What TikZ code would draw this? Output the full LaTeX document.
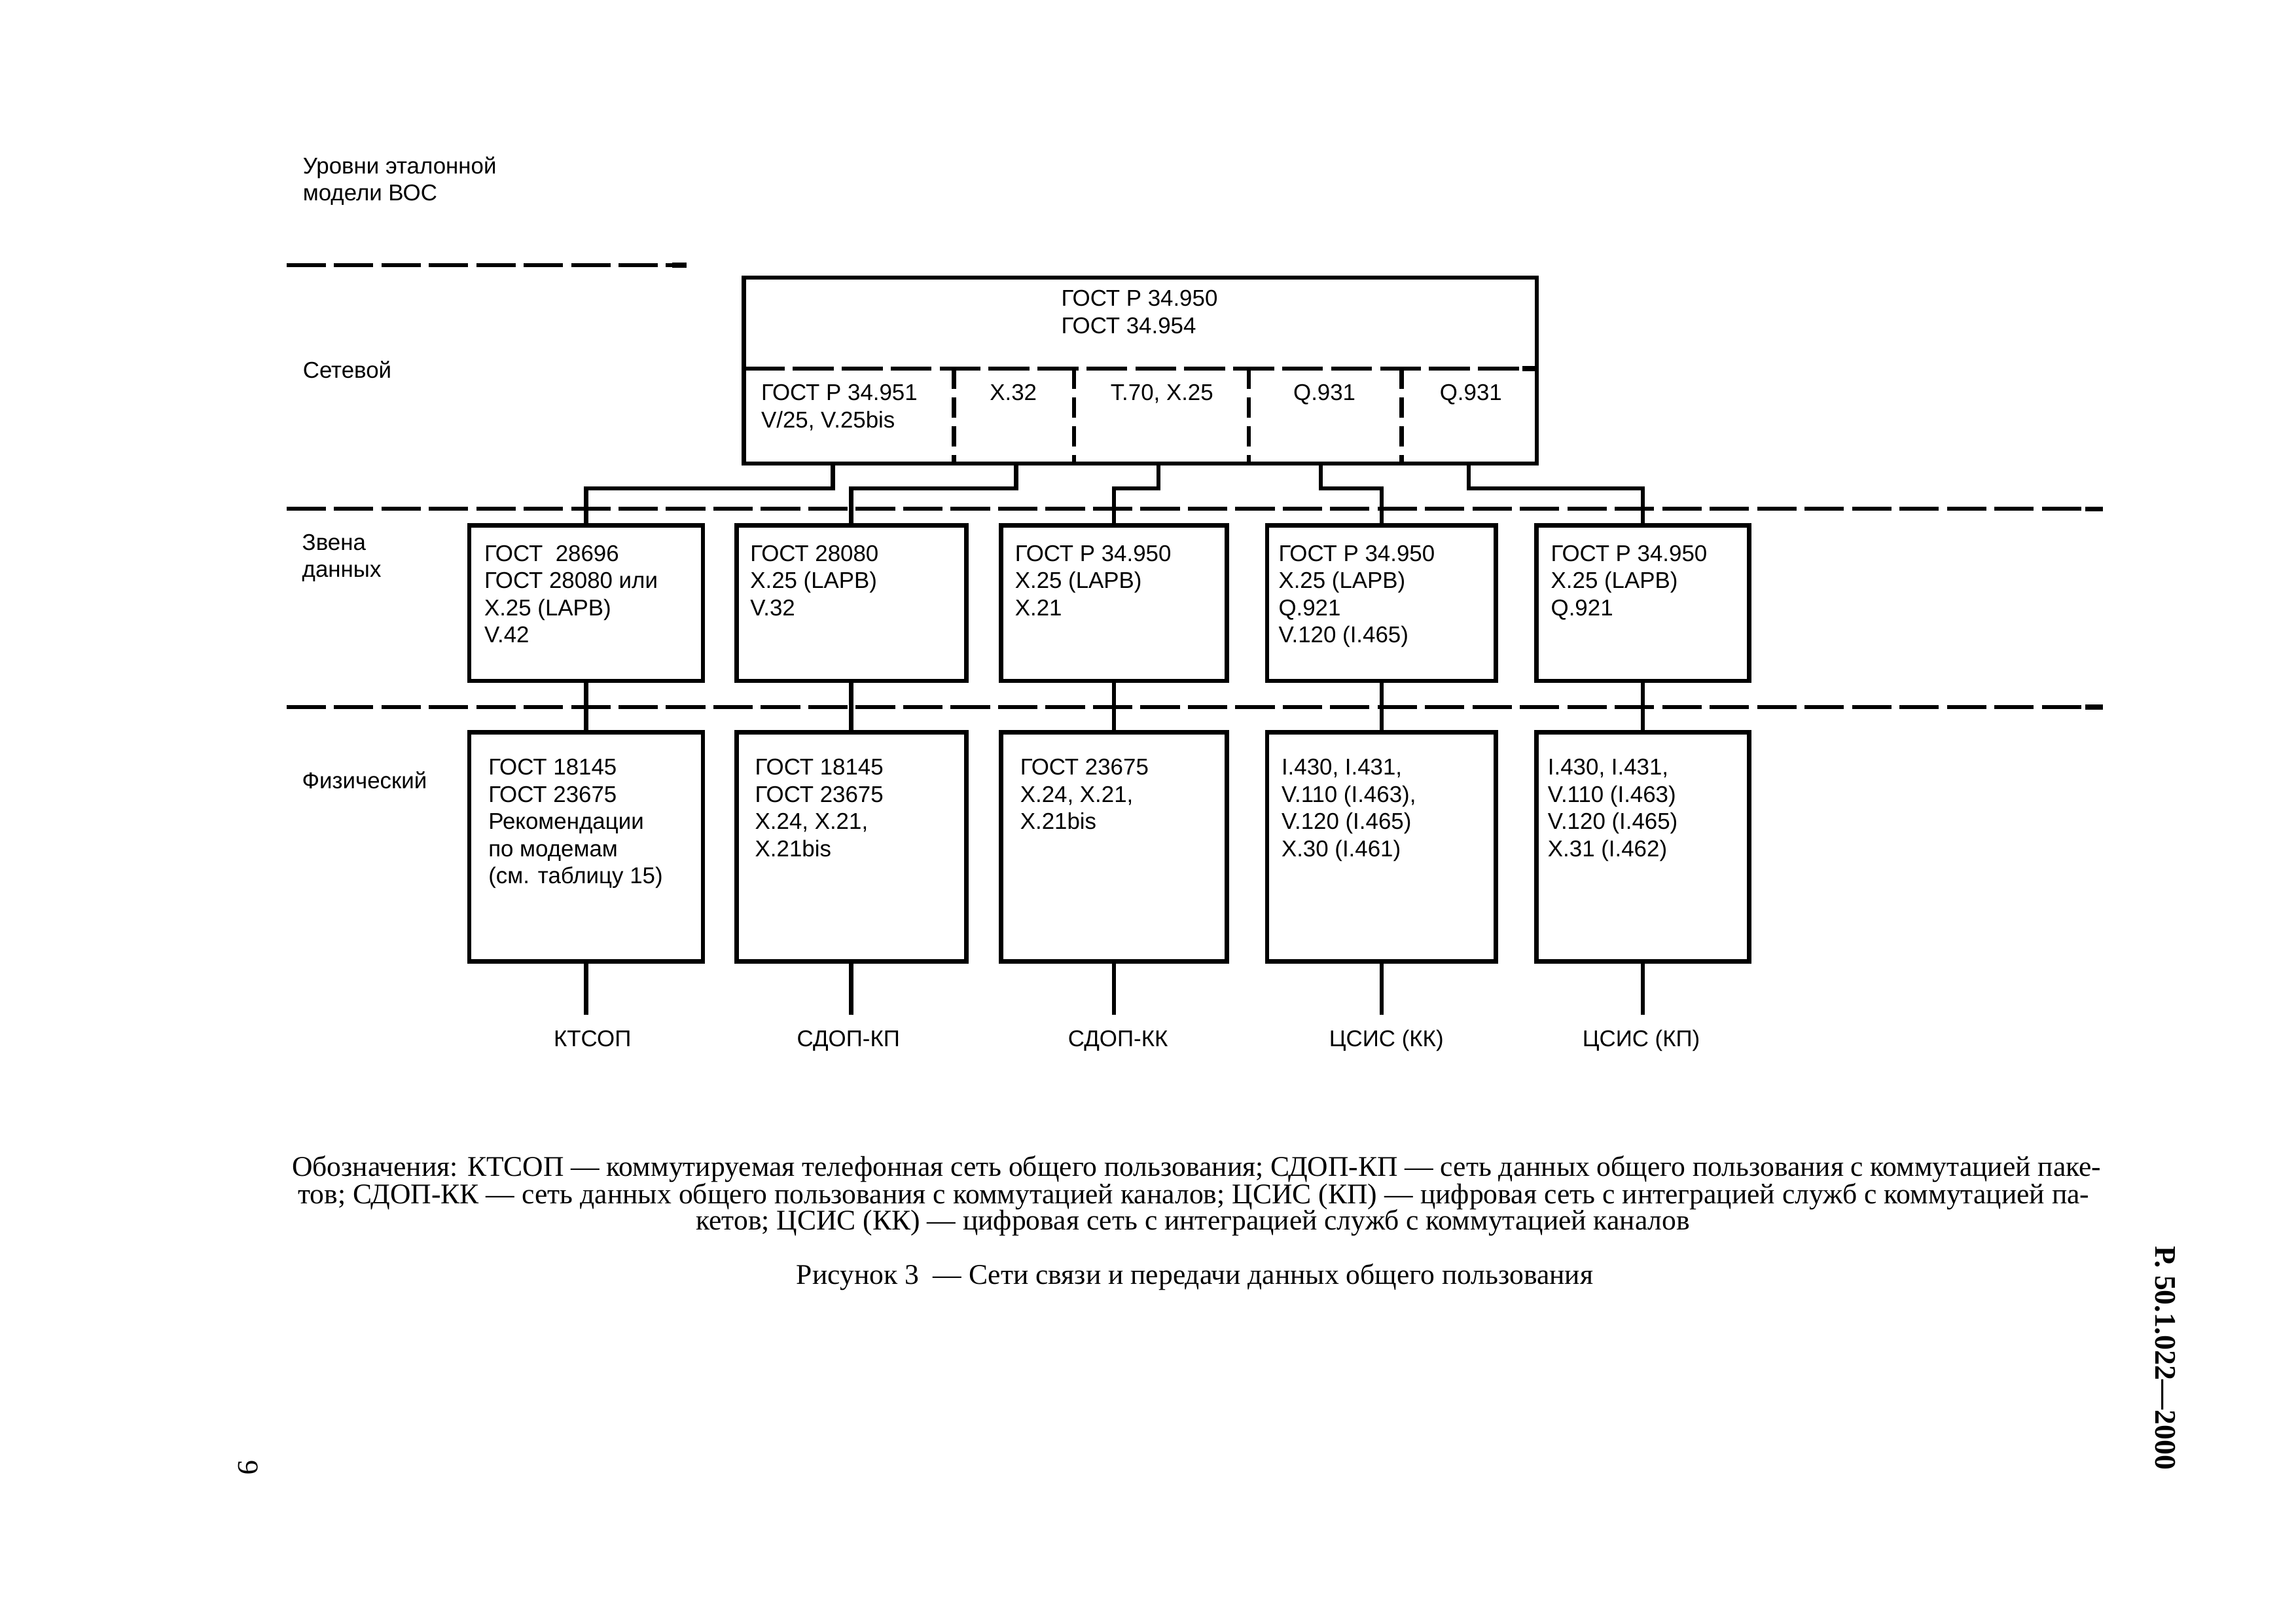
\documentclass[tikz,border=0pt]{standalone}
\usepackage{fontspec}
\setmainfont{Liberation Serif}
\setsansfont{Liberation Sans}
\usetikzlibrary{fit,calc}
\begin{document}
\begin{tikzpicture}[x=0.18941mm, y=-0.18941mm,
  box/.style={draw, line width=1.61pt, inner sep=0pt, outer sep=0pt},
  conn/.style={line width=1.61pt},
  layerline/.style={line width=1.45pt, dash pattern=on 14.5pt off 2.96pt},
  endtab/.style={line width=1.9pt},
  celldash/.style={line width=1.61pt, dash pattern=on 15.05pt off 2.96pt},
  vdash/.style={line width=1.61pt, dash pattern=on 7.53pt off 3.06pt},
  txt/.style={font=\sffamily\fontsize{8.4}{10}\selectfont, align=left, inner sep=0pt, anchor=base west},
  ctxt/.style={font=\sffamily\fontsize{8.4}{10}\selectfont, inner sep=0pt, anchor=base},
  captxt/.style={font=\rmfamily\fontsize{10.5}{12}\selectfont, inner sep=0pt},
]
\fill[white] (0,0) rectangle (1568,1108);
\useasboundingbox (0,0) rectangle (1568,1108);

% level labels (anchor = baseline of last line)
\node[txt] (lv) at (206.5,137.2) {Уровни эталонной\\модели ВОС};
\node[txt] (ls) at (206.5,258) {Сетевой};
\node[txt] (ld) at (206,394.1) {Звена\\данных};
\node[txt] (lf) at (206,538.3) {Физический};

% layer separators
\draw[layerline] (195.6,181) -- (469,181);
\draw[endtab] (459,181) -- (469,181);
\draw[layerline] (195.6,347.5) -- (1436,347.5);
\draw[endtab] (1424,347.5) -- (1436,347.5);
\draw[layerline] (195.6,482.8) -- (1436,482.8);
\draw[endtab] (1424,482.8) -- (1436,482.8);

% network layer box
\node[box, fit={(508,189.5) (1049.5,316.5)}] (net) {};
\coordinate (sepL) at ($(net.north west)+(0,62.1)$);
\coordinate (sepR) at ($(net.north east)+(0,62.1)$);
\draw[celldash] (sepL) -- (sepR);
\draw[endtab] ($(sepR)+(-10,0)$) -- (sepR);
\foreach \f in {0.26500,0.41643,0.63675,0.82964} {
  \draw[vdash] ($(sepL)!\f!(sepR)$) -- ($(net.south west)!\f!(net.south east)$);
}
\node[txt] (nt) at (724.5,227.6) {ГОСТ Р 34.950\\ГОСТ 34.954};
\node[txt] (c1) at (519.5,292.1) {ГОСТ Р 34.951\\V/25, V.25bis};
\node[ctxt] (c2) at (692,273.5) {X.32};
\node[ctxt] (c3) at (793.5,273.5) {T.70, X.25};
\node[ctxt] (c4) at (904.5,273.5) {Q.931};
\node[ctxt] (c5) at (1004.5,273.5) {Q.931};

% data link layer boxes
\node[box, fit={(320.5,358.8) (480,464.9)}] (m1) {};
\node[box, fit={(503,358.8) (659.8,464.9)}] (m2) {};
\node[box, fit={(683.7,358.8) (837.7,464.9)}] (m3) {};
\node[box, fit={(865.4,358.8) (1021.6,464.9)}] (m4) {};
\node[box, fit={(1049.3,358.8) (1194.4,464.9)}] (m5) {};
\node[txt] (m1t) at (330.4,438.8) {ГОСТ\ \ 28696\\ГОСТ 28080 или\\X.25 (LAPB)\\V.42};
\node[txt] (m2t) at (512,420.2) {ГОСТ 28080\\X.25 (LAPB)\\V.32};
\node[txt] (m3t) at (692.8,420.2) {ГОСТ Р 34.950\\X.25 (LAPB)\\X.21};
\node[txt] (m4t) at (872.8,438.8) {ГОСТ Р 34.950\\X.25 (LAPB)\\Q.921\\V.120 (I.465)};
\node[txt] (m5t) at (1058.8,420.2) {ГОСТ Р 34.950\\X.25 (LAPB)\\Q.921};

% physical layer boxes
\node[box, fit={(320.5,500) (480,656.4)}] (b1) {};
\node[box, fit={(503,500) (659.8,656.4)}] (b2) {};
\node[box, fit={(683.7,500) (837.7,656.4)}] (b3) {};
\node[box, fit={(865.4,500) (1021.6,656.4)}] (b4) {};
\node[box, fit={(1049.3,500) (1194.4,656.4)}] (b5) {};
\node[txt] (b1t) at (333.2,603.4) {ГОСТ 18145\\ГОСТ 23675\\Рекомендации\\по модемам\\(см. таблицу 15)};
\node[txt] (b2t) at (515.3,584.8) {ГОСТ 18145\\ГОСТ 23675\\X.24, X.21,\\X.21bis};
\node[txt] (b3t) at (696.4,566.2) {ГОСТ 23675\\X.24, X.21,\\X.21bis};
\node[txt] (b4t) at (874.8,584.8) {I.430, I.431,\\V.110 (I.463),\\V.120 (I.465)\\X.30 (I.461)};
\node[txt] (b5t) at (1056.7,584.8) {I.430, I.431,\\V.110 (I.463)\\V.120 (I.465)\\X.31 (I.462)};

% connectors network -> data link
\foreach \f/\m [count=\i] in {0.11228/m1, 0.34349/m2, 0.52299/m3, 0.72761/m4, 0.91413/m5} {
  \coordinate (p\i) at ($(net.south west)!\f!(net.south east)$);
  \draw[conn] (p\i) -- ++(0,17) -| (\m.north);
}
% data link -> physical, physical -> networks
\foreach \i in {1,...,5} {
  \draw[conn] (m\i.south) -- (b\i.north);
  \coordinate (e\i) at ($(b\i.south)+(0,36.6)$);
  \draw[conn] (b\i.south) -- (e\i);
}
\node[ctxt] (l1) at (404.6,714.7) {КТСОП};
\node[ctxt] (l2) at (579.4,714.7) {СДОП-КП};
\node[ctxt] (l3) at (763.5,714.7) {СДОП-КК};
\node[ctxt] (l4) at (946.8,714.7) {ЦСИС (КК)};
\node[ctxt] (l5) at (1120.8,714.7) {ЦСИС (КП)};

% legend and caption
\node[captxt, anchor=base west] (k1) at (199,803) {\makebox[234.02mm][s]{Обозначения: КТСОП — коммутируемая телефонная сеть общего пользования; СДОП-КП — сеть данных общего пользования с коммутацией паке-}};
\node[captxt, anchor=base west] (k2) at (203.2,821.7) {\makebox[231.70mm][s]{тов; СДОП-КК — сеть данных общего пользования с коммутацией каналов; ЦСИС (КП) — цифровая сеть с интеграцией служб с коммутацией па-}};
\node[captxt, anchor=base] (k3) at (814.7,839.6) {кетов; ЦСИС (КК) — цифровая сеть с интеграцией служб с коммутацией каналов};
\node[captxt, anchor=base] (fig) at (816,876.9) {Рисунок 3\ \ — Сети связи и передачи данных общего пользования};

% page furniture
\node[font=\rmfamily\bfseries\fontsize{11}{13}\selectfont, inner sep=0pt, anchor=base, rotate=-90] (hdr) at (1472,927) {Р. 50.1.022—2000};
\node[font=\rmfamily\fontsize{10.8}{13}\selectfont, inner sep=0pt, anchor=base, rotate=-90] (pg) at (163,1002) {9};
\end{tikzpicture}
\end{document}
